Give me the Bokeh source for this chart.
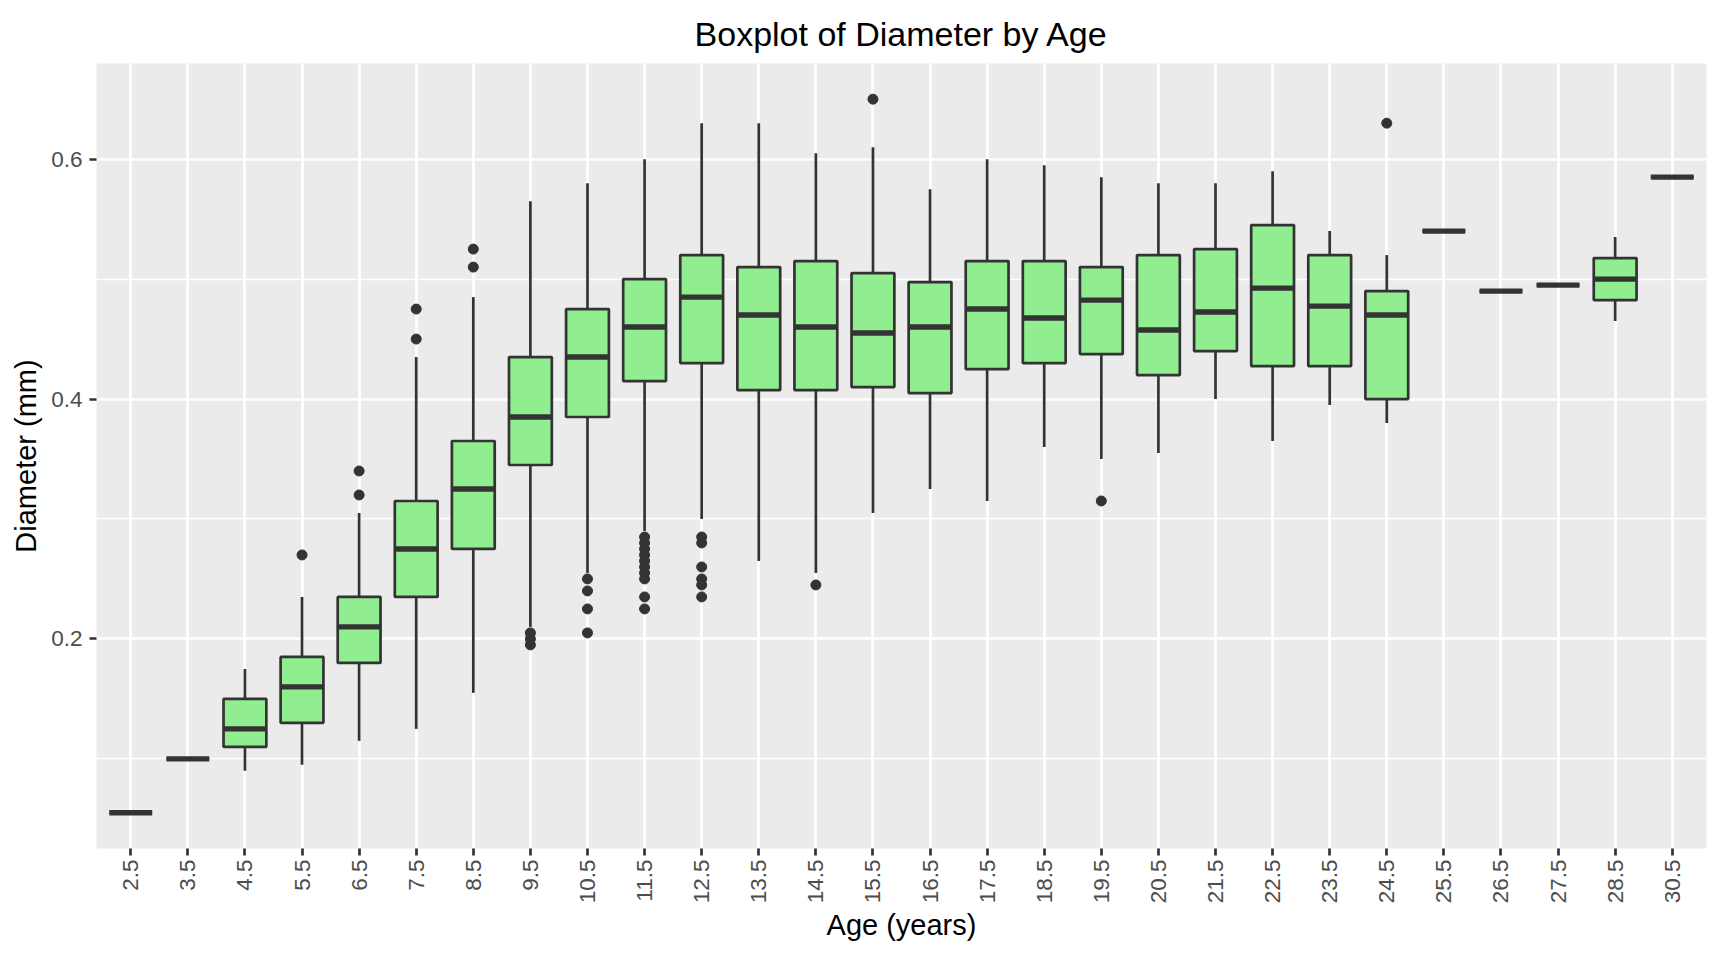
from math import pi
from bokeh.plotting import figure
from bokeh.models import ColumnDataSource, FactorRange, FixedTicker
from bokeh.transform import dodge
from bokeh.embed import file_html
from bokeh.resources import INLINE

ages = ["2.5", "3.5", "4.5", "5.5", "6.5", "7.5", "8.5", "9.5", "10.5", "11.5",
        "12.5", "13.5", "14.5", "15.5", "16.5", "17.5", "18.5", "19.5", "20.5",
        "21.5", "22.5", "23.5", "24.5", "25.5", "26.5", "27.5", "28.5", "30.5"]

whisker_low = [0.055, 0.100, 0.090, 0.095, 0.115, 0.125, 0.155, 0.210, 0.255, 0.290,
               0.300, 0.265, 0.255, 0.305, 0.325, 0.315, 0.360, 0.350, 0.355,
               0.400, 0.365, 0.395, 0.380, 0.540, 0.490, 0.495, 0.465, 0.585]
q1 = [0.055, 0.100, 0.110, 0.130, 0.180, 0.235, 0.275, 0.345, 0.385, 0.415,
      0.430, 0.4075, 0.4075, 0.410, 0.405, 0.425, 0.430, 0.4375, 0.420,
      0.440, 0.4275, 0.4275, 0.400, 0.540, 0.490, 0.495, 0.4825, 0.585]
median = [0.055, 0.100, 0.125, 0.160, 0.210, 0.275, 0.325, 0.385, 0.435, 0.460,
          0.485, 0.470, 0.460, 0.455, 0.460, 0.475, 0.4675, 0.4825, 0.4575,
          0.4725, 0.4925, 0.4775, 0.470, 0.540, 0.490, 0.495, 0.500, 0.585]
q3 = [0.055, 0.100, 0.150, 0.185, 0.235, 0.315, 0.365, 0.435, 0.475, 0.500,
      0.520, 0.510, 0.515, 0.505, 0.4975, 0.515, 0.515, 0.510, 0.520,
      0.525, 0.545, 0.520, 0.490, 0.540, 0.490, 0.495, 0.5175, 0.585]
whisker_high = [0.055, 0.100, 0.175, 0.235, 0.305, 0.435, 0.485, 0.565, 0.580, 0.600,
                0.630, 0.630, 0.605, 0.610, 0.575, 0.600, 0.595, 0.585, 0.580,
                0.580, 0.590, 0.540, 0.520, 0.540, 0.490, 0.495, 0.535, 0.585]

outlier_age = ["5.5", "6.5", "6.5", "7.5", "7.5", "8.5", "8.5",
               "9.5", "9.5", "9.5",
               "10.5", "10.5", "10.5", "10.5",
               "11.5", "11.5", "11.5", "11.5", "11.5", "11.5", "11.5", "11.5", "11.5", "11.5",
               "12.5", "12.5", "12.5", "12.5", "12.5", "12.5",
               "14.5", "15.5", "19.5", "24.5"]
outlier_diam = [0.27, 0.34, 0.32, 0.475, 0.45, 0.525, 0.51,
                0.205, 0.20, 0.195,
                0.25, 0.24, 0.225, 0.205,
                0.285, 0.28, 0.275, 0.27, 0.265, 0.26, 0.255, 0.25, 0.235, 0.225,
                0.285, 0.28, 0.26, 0.25, 0.245, 0.235,
                0.245, 0.65, 0.315, 0.63]

FONT = "Liberation Sans"
DARK = "#333333"

src = ColumnDataSource(dict(age=ages, lo=whisker_low, q1=q1, med=median, q3=q3, hi=whisker_high))
out_src = ColumnDataSource(dict(age=outlier_age, d=outlier_diam))

x_range = FactorRange(factors=ages, range_padding=0.1, range_padding_units="absolute")
p = figure(width=1712, height=944, x_range=x_range, y_range=(0.02525, 0.67975),
           output_backend="svg", toolbar_location=None,
           title="Boxplot of Diameter by Age",
           min_border_left=96, min_border_right=6, min_border_top=63, min_border_bottom=95)

p.background_fill_color = "#EBEBEB"
p.border_fill_color = "white"
p.outline_line_color = None

p.title.text_font = FONT
p.title.text_font_size = "34px"
p.title.text_font_style = "normal"
p.title.text_color = "black"
p.title.align = "center"
p.title.vertical_align = "bottom"
p.title.standoff = 22

p.xgrid.grid_line_color = "white"
p.xgrid.grid_line_width = 2.7
p.ygrid.grid_line_color = "white"
p.ygrid.grid_line_width = 2.7
p.ygrid.minor_grid_line_color = "white"
p.ygrid.minor_grid_line_width = 1.35

p.yaxis.ticker = FixedTicker(ticks=[0.2, 0.4, 0.6], minor_ticks=[0.1, 0.3, 0.5])
p.xaxis.axis_label = "Age (years)"
p.yaxis.axis_label = "Diameter (mm)"
p.xaxis.major_label_orientation = pi / 2

for ax in (p.xaxis[0], p.yaxis[0]):
    ax.axis_line_color = None
    ax.major_tick_line_color = DARK
    ax.major_tick_line_width = 2.7
    ax.major_tick_out = 7
    ax.major_tick_in = 0
    ax.minor_tick_line_color = None
    ax.major_label_text_font = FONT
    ax.major_label_text_font_size = "22.5px"
    ax.major_label_text_color = "#4D4D4D"
    ax.axis_label_text_font = FONT
    ax.axis_label_text_font_size = "29px"
    ax.axis_label_text_font_style = "normal"
    ax.axis_label_text_color = "black"

p.xaxis.major_label_standoff = 4
p.xaxis.axis_label_standoff = 3
p.yaxis.major_label_standoff = 7
p.yaxis.axis_label_standoff = 6

# whiskers
p.segment(x0="age", y0="q3", x1="age", y1="hi", source=src, line_color=DARK, line_width=2.7)
p.segment(x0="age", y0="q1", x1="age", y1="lo", source=src, line_color=DARK, line_width=2.7)
# boxes
p.vbar(x="age", width=0.75, bottom="q1", top="q3", source=src,
       fill_color="#90EE90", line_color=DARK, line_width=2.7)
# medians
p.segment(x0=dodge("age", -0.375, range=p.x_range), y0="med",
          x1=dodge("age", 0.375, range=p.x_range), y1="med",
          source=src, line_color=DARK, line_width=5.4, line_cap="butt")
# outliers
p.scatter(x="age", y="d", source=out_src, size=10, color=DARK)

open("out.html", "w").write(file_html(p, INLINE))
